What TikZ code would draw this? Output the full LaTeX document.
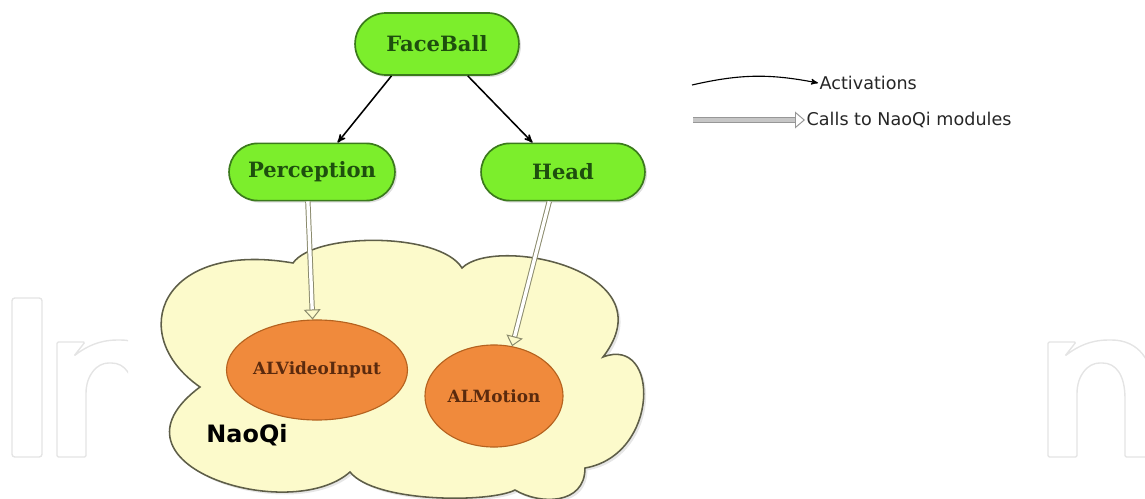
\documentclass[tikz,border=0pt]{standalone}
\usepackage{fontspec}
\newfontfamily\boxfont{DejaVu Serif}
\newfontfamily\notefont{DejaVu Sans}
\usepackage{xcolor}
\definecolor{colorBehaviour}{HTML}{7CEE2C}
\definecolor{colorBehaviourLine}{HTML}{3B7A1C}
\definecolor{colorBehaviourText}{HTML}{1E4F0E}
\definecolor{colorModule}{HTML}{F08A3C}
\definecolor{colorModuleLine}{HTML}{B5621F}
\definecolor{colorModuleText}{HTML}{5A2A0E}
\definecolor{colorCloud}{HTML}{FCFACB}
\definecolor{colorCloudLine}{HTML}{5E5E48}
\definecolor{colorCall}{HTML}{8A8A6C}
\definecolor{colorCallKey}{HTML}{979797}
\definecolor{colorMark}{HTML}{E4E4E4}
\usepackage{tikz}
\usetikzlibrary{arrows, arrows.meta, shapes.misc, shapes.geometric, shadows, positioning}
\tikzset{
  behaviour/.style={rounded rectangle, draw=colorBehaviourLine, line width=1.2pt, fill=colorBehaviour, text=colorBehaviourText, font=\boxfont\bfseries\fontsize{15}{18}\selectfont, minimum height=1.43cm, drop shadow={opacity=0.25, shadow xshift=0.5mm, shadow yshift=-0.5mm}},
  module/.style={ellipse, draw=colorModuleLine, line width=0.8pt, fill=colorModule, text=colorModuleText, font=\boxfont\bfseries\fontsize{12}{14}\selectfont, inner sep=0pt},
  call/.style={draw=colorCall, double=white, double distance=2.4pt, line width=0.7pt, -{Triangle[open, length=0.25cm, width=0.42cm, line width=0.7pt]}},
  key/.style={font=\notefont\fontsize{12.5}{15}\selectfont, text=black!85, inner sep=1pt, anchor=west}
}

\begin{document}
\begin{tikzpicture}[>=stealth', x=0.025cm, y=-0.025cm]
\useasboundingbox (0,0) rectangle (1145,499);
\begin{scope}
\clip (0,0) rectangle (128,499) (1035,0) rectangle (1145,499);
\draw[colorMark, line width=1pt, rounded corners=2pt] (12,298) rectangle (42,457);
\foreach \x in {57,1048} {
\draw[colorMark, line width=1pt, rounded corners=1pt] (\x,457) -- (\x,342) -- (\x+28,342) -- (\x+17,356) .. controls (\x+35,342) and (\x+50,340) .. (\x+62,340) .. controls (\x+90,340) and (\x+106,360) .. (\x+106,395) -- (\x+106,457) -- (\x+77,457) -- (\x+77,400) .. controls (\x+77,375) and (\x+68,363) .. (\x+53,363) .. controls (\x+40,363) and (\x+29,375) .. (\x+29,395) -- (\x+29,457) -- cycle;
}
\end{scope}
\coordinate (c1) at (200,387);
\coordinate (c2) at (293,263);
\coordinate (c3) at (462,268);
\coordinate (c4) at (603,357);
\coordinate (c5) at (585,468);
\coordinate (c6) at (515,490);
\coordinate (c7) at (350,472);
\draw[draw=colorCloudLine, line width=1.1pt, fill=colorCloud, drop shadow={opacity=0.2, shadow xshift=0.6mm, shadow yshift=-0.6mm}]
  (c1) .. controls (125,335) and (160,240) .. (c2)
  .. controls (315,232) and (440,232) .. (c3)
  .. controls (495,235) and (670,270) .. (c4)
  .. controls (660,335) and (660,455) .. (c5)
  .. controls (585,505) and (540,505) .. (c6)
  .. controls (490,503) and (375,503) .. (c7)
  .. controls (290,525) and (95,465) .. (c1) -- cycle;
\node[font=\notefont\bfseries\fontsize{17}{20}\selectfont] (nqlbl) at (247,435) {NaoQi};
\node[module, minimum width=3.5cm, minimum height=2.5cm] (vid) at (317,370) {ALVideoInput};
\node[module, minimum width=3.45cm, minimum height=2.55cm] (mot) at (494,396) {ALMotion};
\node[behaviour, minimum width=4.33cm, minimum height=1.55cm] (fb) at (437,44) {FaceBall};
\node[behaviour, minimum width=4.38cm] (perc) at (312,172) {Perception};
\node[behaviour, minimum width=4.33cm] (head) at (563,172) {Head};
\draw [->, black, line width=1.1pt] (fb.215) -- (perc.49);
\draw [->, black, line width=1.1pt] (fb.314) -- (head.136);
\draw [call] (perc.262) -- (vid.95);
\draw [call] (head.245) -- (mot.70);
\coordinate (actstart) at (692,85);
\coordinate (callstart) at (693,120);
\node[key] (act) at (818,83) {Activations};
\node[key] (calls) at (805,120) {Calls to NaoQi modules};
\draw [->, black, line width=0.8pt] (actstart) to [bend left=12] (act.west);
\draw [call, draw=colorCallKey, double=colorCallKey!55] (callstart) -- (calls.west);
\end{tikzpicture}
\end{document}
